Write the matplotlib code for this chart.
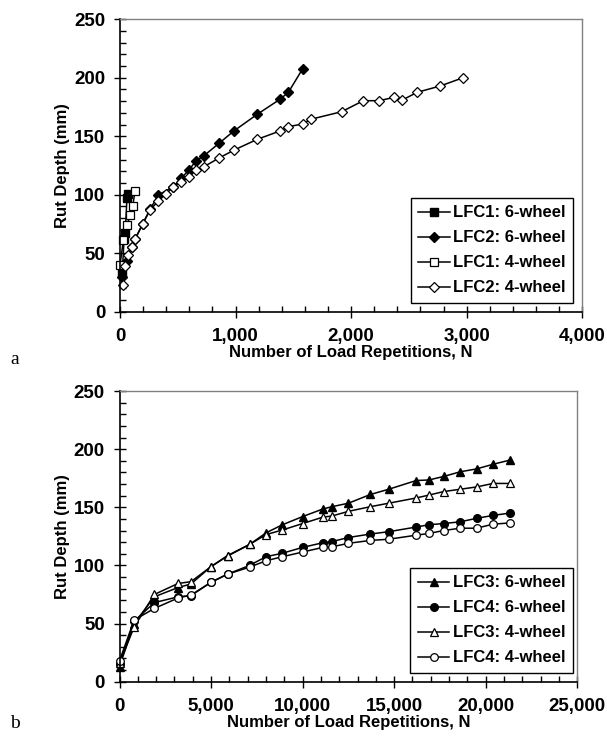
import matplotlib
matplotlib.use("Agg")
import matplotlib.pyplot as plt
from matplotlib.ticker import MultipleLocator, FuncFormatter

plt.rcParams['font.family'] = ['Liberation Sans', 'DejaVu Sans']

# ---------- Panel a data ----------
lfc1_6_x = [20, 35, 45, 60, 70]
lfc1_6_y = [34, 62, 67, 97, 101]
lfc2_6_x = [20, 63, 101, 130, 196, 260, 332, 462, 528, 597, 658, 727, 857, 989, 1188, 1384, 1457, 1581]
lfc2_6_y = [30, 43.6, 55, 62, 75, 87.5, 99.8, 106.9, 114, 121.2, 129.1, 133.4, 144, 154.8, 168.8, 181.6, 187.6, 207.8]
lfc1_4_x = [0, 29, 63, 87, 110, 130]
lfc1_4_y = [40, 61, 74, 83, 90, 103]
lfc2_4_x = [23, 43, 72, 101, 130, 196, 260, 332, 395, 462, 528, 597, 658, 727, 857, 989, 1188,
            1384, 1457, 1581, 1650, 1918, 2105, 2241, 2374, 2443, 2572, 2771, 2970]
lfc2_4_y = [22.8, 39.3, 48.5, 55, 61.9, 75, 87, 94.7, 100.4, 106.9, 111.2, 114.9, 121.2, 124, 131.4,
            138.3, 147.4, 154.5, 158.2, 160.5, 164.5, 171, 180.4, 180.4, 183.3, 181, 187.6, 193, 200.1]

# ---------- Panel b data ----------
b_x = [0, 800, 1900, 3200, 3900, 5000, 5900, 7100, 8000, 8900, 10000, 11100, 11600, 12500,
       13700, 14700, 16200, 16900, 17700, 18600, 19500, 20400, 21300]
lfc3_6_y = [13, 50, 73, 81, 84, 99, 108, 118, 128, 135, 142, 148.5, 150.5, 153.5, 161, 165.5,
            173, 173.5, 176.5, 180.5, 183, 187, 190.5]
lfc4_6_y = [15, 52, 68, 73, 74, 85.5, 92.5, 100, 107.5, 110.5, 115.5, 119.5, 120.5, 124, 127,
            129, 133, 135, 136, 137.5, 140.5, 143, 145]
lfc3_4_y = [16, 47, 75, 84.5, 86, 99, 108.5, 118, 126.5, 130.5, 136, 141.5, 142.5, 146.5, 150.5,
            153.5, 158, 160.5, 163.5, 165.5, 167.5, 170.5, 170.5]
lfc4_4_y = [18, 53, 63, 72, 74.5, 85.5, 92.5, 98.5, 104, 107.5, 111.5, 115.5, 116, 119, 121.5,
            122.5, 126, 127.5, 130, 132, 132, 135.5, 136.5]

W, H = 607, 738
fig = plt.figure(figsize=(W / 100, H / 100), dpi=100)

def axrect(x0, y0, x1, y1):
    return [x0 / W, 1 - y1 / H, (x1 - x0) / W, (y1 - y0) / H]

ax1 = fig.add_axes(axrect(120, 19.3, 582.3, 311.7))
ax2 = fig.add_axes(axrect(119.5, 391, 577.3, 681.7))

comma = FuncFormatter(lambda v, p: f"{int(v):,}")

def style(ax, xmax, xmaj, xmin):
    ax.set_xlim(0, xmax)
    ax.set_ylim(0, 250)
    ax.xaxis.set_major_locator(MultipleLocator(xmaj))
    ax.xaxis.set_minor_locator(MultipleLocator(xmin))
    ax.yaxis.set_major_locator(MultipleLocator(50))
    ax.yaxis.set_minor_locator(MultipleLocator(10))
    ax.xaxis.set_major_formatter(comma)
    ax.tick_params(which='major', direction='inout', length=9, width=1, labelsize=13.5)
    ax.tick_params(axis='y', which='major', pad=6)
    ax.tick_params(axis='x', which='major', pad=7)
    ax.tick_params(which='minor', direction='in', length=4, width=1)
    for s in ['top', 'right']:
        ax.spines[s].set_color('#808080')
        ax.spines[s].set_linewidth(1)
    for s in ['left', 'bottom']:
        ax.spines[s].set_color('black')
        ax.spines[s].set_linewidth(1.2)
    for lab in ax.get_xticklabels() + ax.get_yticklabels():
        lab.set_fontweight('bold')
    ax.set_ylabel('Rut Depth (mm)', fontsize=12, fontweight='bold', labelpad=3)
    ax.set_xlabel('Number of Load Repetitions, N', fontsize=12, fontweight='bold', labelpad=0)

kw = dict(color='black', lw=1.1, clip_on=False)
ax1.plot(lfc1_6_x, lfc1_6_y, marker='s', ms=5.5, mfc='black', mec='black', label='LFC1: 6-wheel', **kw)
ax1.plot(lfc2_6_x, lfc2_6_y, marker='D', ms=5, mfc='black', mec='black', label='LFC2: 6-wheel', **kw)
ax1.plot(lfc1_4_x, lfc1_4_y, marker='s', ms=5.5, mfc='white', mec='black', mew=0.9, label='LFC1: 4-wheel', **kw)
ax1.plot(lfc2_4_x, lfc2_4_y, marker='D', ms=5, mfc='white', mec='black', mew=0.9, label='LFC2: 4-wheel', **kw)
style(ax1, 4000, 1000, 200)

ax2.plot(b_x, lfc3_6_y, marker='^', ms=6, mfc='black', mec='black', label='LFC3: 6-wheel', **kw)
ax2.plot(b_x, lfc4_6_y, marker='o', ms=5.5, mfc='black', mec='black', label='LFC4: 6-wheel', **kw)
ax2.plot(b_x, lfc3_4_y, marker='^', ms=6, mfc='white', mec='black', mew=0.9, label='LFC3: 4-wheel', **kw)
ax2.plot(b_x, lfc4_4_y, marker='o', ms=5.5, mfc='white', mec='black', mew=0.9, label='LFC4: 4-wheel', **kw)
style(ax2, 25000, 5000, 1000)

for ax, anchor in [(ax1, (0.98, 0.03)), (ax2, (0.99, 0.03))]:
    leg = ax.legend(loc='lower right', bbox_to_anchor=anchor, frameon=True, fancybox=False,
                    edgecolor='black', framealpha=1, handlelength=1.9, handletextpad=0.2,
                    labelspacing=0.6, borderpad=0.45, borderaxespad=0,
                    prop={'size': 12, 'weight': 'bold'})
    leg.get_frame().set_linewidth(1)

fig.text(15 / W, 1 - 360 / H, 'a', family=['Liberation Serif'], fontweight='normal',
         fontsize=14, va='center', ha='center')
fig.text(15 / W, 1 - 724 / H, 'b', family=['Liberation Serif'], fontweight='normal',
         fontsize=14, va='center', ha='center')

fig.savefig('out.png', dpi=100)
